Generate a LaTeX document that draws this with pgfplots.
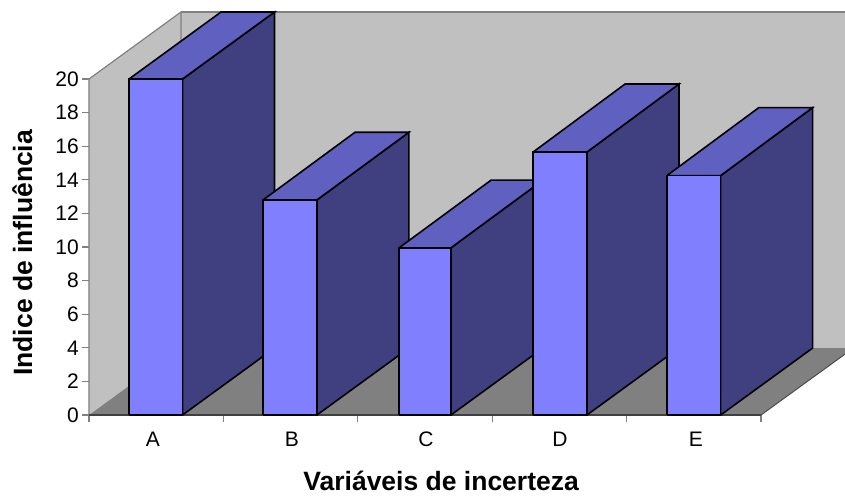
\documentclass[border=0pt]{standalone}
\usepackage{fontspec}
\setmainfont{Liberation Sans}
\usepackage{pgfplots}
\pgfplotsset{compat=1.18}
\definecolor{front}{HTML}{8080FF}
\definecolor{topf}{HTML}{6060C0}
\definecolor{sidef}{HTML}{404080}
\definecolor{wall}{HTML}{C0C0C0}
\definecolor{floorc}{HTML}{808080}
\begin{document}
\begin{tikzpicture}[x=1pt,y=1pt]
\useasboundingbox (-89,-80) rectangle (756,415);
\begin{axis}[
  at={(0,0)},anchor=origin,
  scale only axis,width=756pt,height=403pt,
  xmin=0,xmax=5.625,ymin=0,ymax=23.988,
  axis line style={draw=none},
  clip=false,
  xtick={0,1,2,3,4,5},
  xticklabels={},
  extra x ticks={0.476,1.51,2.507,3.504,4.516},
  extra x tick labels={\fontsize{21}{21}\selectfont A,\fontsize{21}{21}\selectfont B,\fontsize{21}{21}\selectfont C,\fontsize{21}{21}\selectfont D,\fontsize{21}{21}\selectfont E},
  extra x tick style={tick style={draw=none},xticklabel style={yshift=-7pt}},
  ytick={0,2,...,20},
  tick align=outside,
  tick pos=left,
  major tick length=6.5pt,
  tick style={draw=floorc,line width=1.2pt},
  yticklabel style={font=\fontsize{21}{21}\selectfont,xshift=-3.5pt,inner sep=0pt},
  /pgf/number format/assume math mode=true,
  ylabel={\fontsize{26.5}{27}\selectfont\bfseries Indice de influência},
  xlabel={\fontsize{26.5}{27}\selectfont\bfseries Variáveis de incerteza},
  every axis y label/.style={at={(axis cs:-0.495,9.65)},rotate=90,anchor=center,inner sep=0pt},
  every axis x label/.style={at={(axis cs:2.62,-3.92)},anchor=center,inner sep=0pt},
]
% walls and floor
\addplot[fill=wall,draw=none] coordinates {(0,0)(0,20)(0.6845,23.988)(5.625,23.988)(5.625,3.988)(0.6845,3.988)(0,0)};
\addplot[fill=floorc,draw=none] coordinates {(0,0)(5,0)(5.625,3.622)(5.625,3.988)(0.6845,3.988)(0,0)};
\addplot[draw=floorc,line width=1.2pt] coordinates {(0,0)(0,20)(0.6845,23.988)(0.6845,3.988)};
\addplot[draw=floorc,line width=1.2pt] coordinates {(0.6845,23.988)(5.625,23.988)};
\addplot[draw=black!70,line width=1pt] coordinates {(5,0)(5.625,3.622)};
\addplot[draw=black!75,line width=1.2pt] coordinates {(0,0)(5,0)};
% A
\addplot[fill=sidef,draw=black,line width=1.6pt] coordinates {(0.696,0)(0.696,20)(1.3805,23.988)(1.3805,3.988)(0.696,0)};
\addplot[fill=topf,draw=black,line width=1.6pt] coordinates {(0.298,20)(0.696,20)(1.3805,23.988)(0.9825,23.988)(0.298,20)};
\addplot[fill=front,draw=black,line width=1.6pt] coordinates {(0.298,0)(0.696,0)(0.696,20)(0.298,20)(0.298,0)};
% B
\addplot[fill=sidef,draw=black,line width=1.6pt] coordinates {(1.696,0)(1.696,12.8)(2.3805,16.83)(2.3805,3.988)(1.696,0)};
\addplot[fill=topf,draw=black,line width=1.6pt] coordinates {(1.295,12.8)(1.696,12.8)(2.3805,16.83)(1.9795,16.83)(1.295,12.8)};
\addplot[fill=front,draw=black,line width=1.6pt] coordinates {(1.295,0)(1.696,0)(1.696,12.8)(1.295,12.8)(1.295,0)};
% C
\addplot[fill=sidef,draw=black,line width=1.6pt] coordinates {(2.693,0)(2.693,9.95)(3.3775,13.98)(3.3775,3.988)(2.693,0)};
\addplot[fill=topf,draw=black,line width=1.6pt] coordinates {(2.307,9.95)(2.693,9.95)(3.3775,13.98)(2.9915,13.98)(2.307,9.95)};
\addplot[fill=front,draw=black,line width=1.6pt] coordinates {(2.307,0)(2.693,0)(2.693,9.95)(2.307,9.95)(2.307,0)};
% D
\addplot[fill=sidef,draw=black,line width=1.6pt] coordinates {(3.705,0)(3.705,15.65)(4.3895,19.7)(4.3895,3.988)(3.705,0)};
\addplot[fill=topf,draw=black,line width=1.6pt] coordinates {(3.304,15.65)(3.705,15.65)(4.3895,19.7)(3.9885,19.7)(3.304,15.65)};
\addplot[fill=front,draw=black,line width=1.6pt] coordinates {(3.304,0)(3.705,0)(3.705,15.65)(3.304,15.65)(3.304,0)};
% E
\addplot[fill=sidef,draw=black,line width=1.6pt] coordinates {(4.70,0)(4.70,14.25)(5.3845,18.3)(5.3845,3.988)(4.70,0)};
\addplot[fill=topf,draw=black,line width=1.6pt] coordinates {(4.30,14.25)(4.70,14.25)(5.3845,18.3)(4.9845,18.3)(4.30,14.25)};
\addplot[fill=front,draw=black,line width=1.6pt] coordinates {(4.30,0)(4.70,0)(4.70,14.25)(4.30,14.25)(4.30,0)};
\end{axis}
\end{tikzpicture}
\end{document}
